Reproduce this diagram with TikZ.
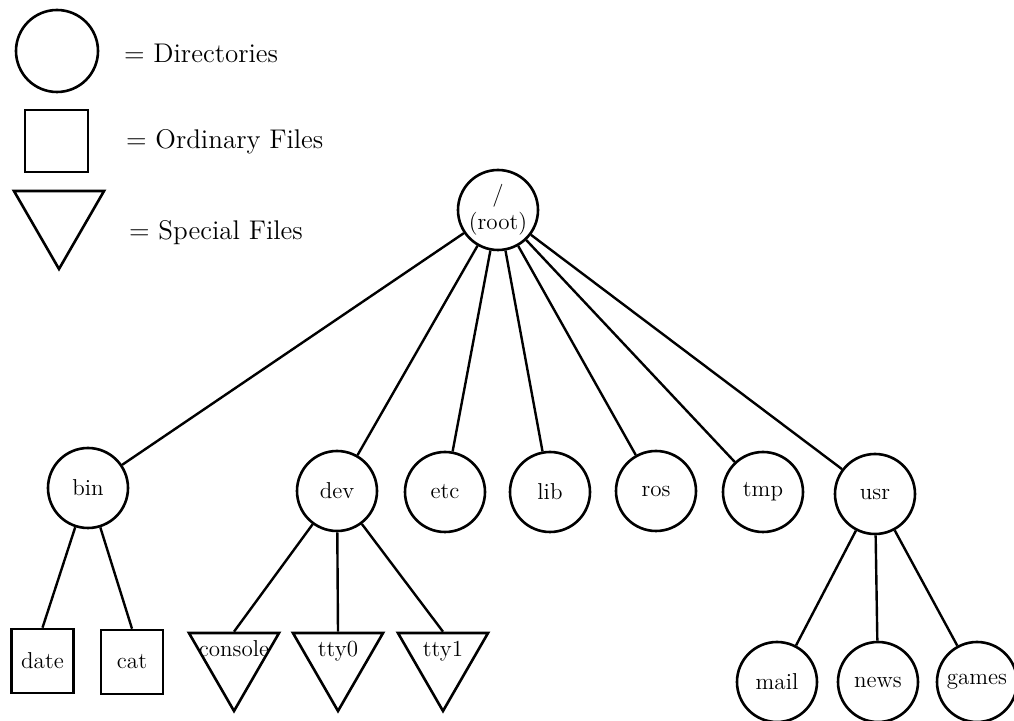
\documentclass[tikz,border=0pt]{standalone}
\usetikzlibrary{shapes.geometric}
\begin{document}
\begin{tikzpicture}[x=0.5pt,y=-0.5pt,
  every node/.style={font=\fontsize{11.5}{13.8}\selectfont},
  dir/.style={draw,circle,line width=1.3pt,minimum size=40pt,inner sep=0pt},
  ord/.style={draw,rectangle,line width=1.3pt,minimum width=31pt,minimum height=32pt,inner sep=0pt},
  spec/.style={draw,regular polygon,regular polygon sides=3,shape border rotate=180,line width=1.3pt,minimum size=52pt,inner sep=0pt},
  legtext/.style={anchor=west,font=\fontsize{13.5}{15}\selectfont},
  edge/.style={line width=1.2pt}]
\useasboundingbox (0,0) rectangle (1014,721);
% legend
\node[dir,minimum size=41pt] (legdir) at (57,51) {};
\node[ord,minimum width=31.5pt,minimum height=31pt] (legord) at (56.5,141) {};
\node[spec] (legspec) at (59,217) {};
\node[legtext] (legdirT) at (117,53) {= Directories};
\node[legtext] (legordT) at (119,142) {= Ordinary Files};
\node[legtext] (legspecT) at (122,233) {= Special Files};
% directories
\node[dir,align=center] (root) at (498,210) {/\\(root)};
\node[dir] (bin) at (88,488) {bin};
\node[dir] (dev) at (337,491) {dev};
\node[dir] (etc) at (445,492) {etc};
\node[dir] (lib) at (550,492) {lib};
\node[dir] (ros) at (656,491) {ros};
\node[dir] (tmp) at (763,492) {tmp};
\node[dir] (usr) at (875,494) {usr};
\node[dir] (mail) at (777,682) {mail};
\node[dir] (news) at (878,682) {news};
\node[dir] (games) at (977,682) {games};
% ordinary files
\node[ord] (date) at (42.5,661) {date};
\node[ord] (cat) at (132,662) {cat};
% special files
\node[spec] (console) at (234,659) {};
\node[spec] (tty0) at (338,659) {};
\node[spec] (tty1) at (443,659) {};
\node (consoleT) at (234,649) {console};
\node (tty0T) at (338,651) {tty0};
\node (tty1T) at (443,651) {tty1};
% connectors
\foreach \c in {bin,dev,etc,lib,ros,tmp,usr} \draw[edge] (root) -- (\c);
\draw[edge] (bin) -- (date.north);
\draw[edge] (bin) -- (cat.north);
\draw[edge] (dev) -- (console.north);
\draw[edge] (dev) -- (tty0.north);
\draw[edge] (dev) -- (tty1.north);
\draw[edge] (usr) -- (mail);
\draw[edge] (usr) -- (news);
\draw[edge] (usr) -- (games);
\end{tikzpicture}
\end{document}
